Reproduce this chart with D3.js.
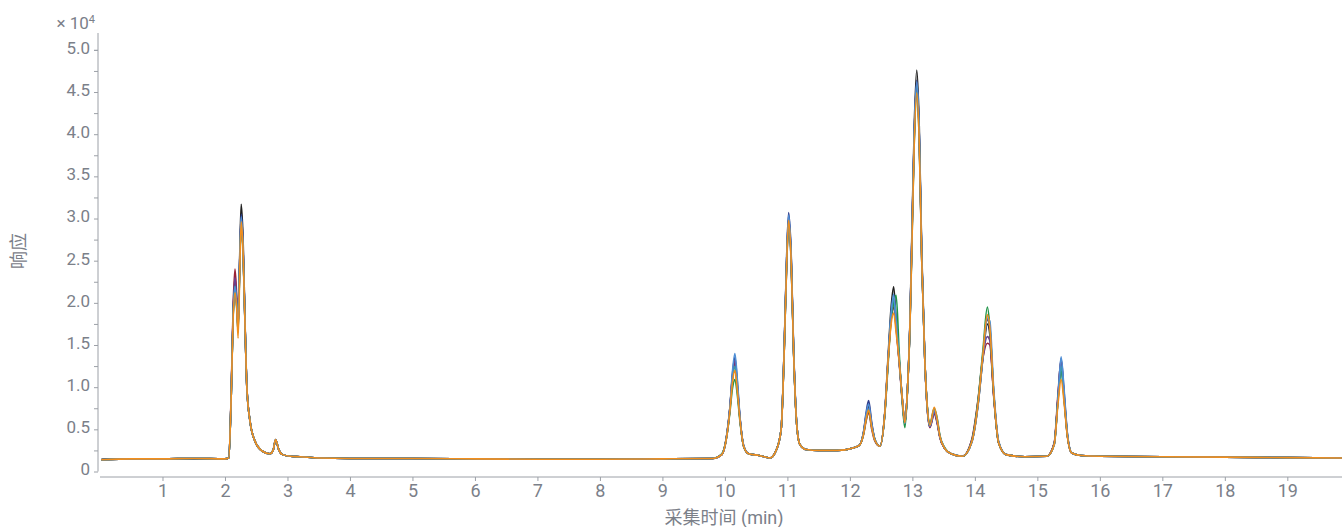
<!DOCTYPE html>
<html>
<head>
<meta charset="utf-8">
<script src="https://cdn.jsdelivr.net/npm/d3@7"></script>
<style>
  body { margin: 0; background: #fff; }
  text { font-family: Roboto, "Noto Sans CJK SC", sans-serif; fill: #7b8089; }
  .axis path, .axis line { stroke: #9ca0a7; }
</style>
</head>
<body>
<script>
// acquisition time (min), shared by every run
const times = [
  0.02, 0.5, 1.0, 1.5, 2.0, 2.06, 2.10, 2.13, 2.16, 2.19, 2.21, 2.24, 2.26, 2.29, 2.32, 2.35, 2.40, 2.48, 2.60, 2.72, 2.77, 2.81, 2.86, 2.92, 3.05, 3.20, 3.50, 4, 5, 6, 7, 8, 9, 9.80,
  9.95, 10.03, 10.08, 10.12, 10.16, 10.20, 10.24, 10.30, 10.38, 10.55, 10.72,
  10.82, 10.90, 10.95, 10.99, 11.02, 11.06, 11.10, 11.15, 11.20, 11.30, 11.50, 11.80,
  12.05, 12.15, 12.22, 12.26, 12.30, 12.35, 12.40, 12.48,
  12.56, 12.61, 12.66, 12.70, 12.74, 12.79, 12.84, 12.88,
  12.92, 12.96, 12.99, 13.03, 13.07, 13.11, 13.15, 13.20, 13.24, 13.28,
  13.35, 13.40, 13.44, 13.52, 13.62, 13.80,
  13.95, 14.05, 14.13, 14.20, 14.24, 14.30, 14.38, 14.50, 14.80,
  15.15, 15.27, 15.33, 15.38, 15.43, 15.48, 15.55, 15.70,
  16, 17, 18, 19, 19.9
];

// response of each run (x 10^4)
const runBlack = [
  0.145,0.15,0.15,0.15,0.15,0.16,0.92,1.85,2.2,1.95,1.7,2.7,3.17,2.75,1.8,1.02,0.6,0.36,0.24,0.21,0.25,0.38,0.26,0.2,0.18,0.175,0.16,0.155,0.155,0.15,0.145,0.145,0.15,0.155,
  0.2,0.44,0.76,1.12,1.3,1.0,0.64,0.3,0.21,0.19,0.16,
  0.25,0.5,1.5,2.55,3.0,2.55,1.42,0.55,0.32,0.26,0.25,0.25,
  0.28,0.31,0.47,0.66,0.78,0.55,0.38,0.3,
  0.72,1.35,1.95,2.19,1.8,1.32,0.85,0.58,
  0.95,1.75,2.75,4.1,4.76,4.1,2.6,1.32,0.75,0.55,
  0.72,0.58,0.41,0.27,0.21,0.18,
  0.35,0.78,1.35,1.75,1.62,0.92,0.34,0.2,0.175,
  0.18,0.33,0.85,1.25,0.88,0.44,0.22,0.19,
  0.18,0.175,0.17,0.165,0.16
];
const runNavy = [
  0.14,0.15,0.15,0.155,0.15,0.16,0.9,1.86,2.25,1.98,1.72,2.65,3.05,2.68,1.78,1.0,0.6,0.36,0.24,0.21,0.25,0.37,0.26,0.2,0.18,0.175,0.16,0.155,0.155,0.15,0.145,0.145,0.15,0.155,
  0.2,0.43,0.75,1.15,1.35,1.05,0.65,0.31,0.21,0.19,0.16,
  0.25,0.5,1.5,2.6,3.07,2.6,1.45,0.56,0.32,0.26,0.25,0.25,
  0.28,0.31,0.48,0.7,0.84,0.58,0.38,0.3,
  0.7,1.3,1.85,2.05,1.75,1.3,0.85,0.56,
  0.95,1.72,2.7,4.0,4.64,4.0,2.55,1.3,0.74,0.53,
  0.7,0.58,0.41,0.27,0.21,0.18,
  0.35,0.8,1.38,1.8,1.68,0.95,0.35,0.2,0.175,
  0.18,0.33,0.88,1.34,0.92,0.45,0.22,0.19,
  0.18,0.175,0.17,0.165,0.16
];
const runRed = [
  0.14,0.15,0.15,0.155,0.15,0.16,0.95,1.95,2.4,2.05,1.75,2.6,3.0,2.62,1.76,1.0,0.6,0.36,0.24,0.21,0.25,0.38,0.26,0.2,0.18,0.175,0.16,0.155,0.155,0.15,0.145,0.145,0.15,0.155,
  0.2,0.42,0.74,1.1,1.28,0.98,0.63,0.3,0.21,0.19,0.16,
  0.25,0.5,1.45,2.5,2.95,2.5,1.4,0.55,0.32,0.26,0.25,0.25,
  0.28,0.31,0.44,0.6,0.7,0.5,0.36,0.3,
  0.7,1.3,1.8,1.95,1.7,1.28,0.82,0.57,
  0.95,1.7,2.65,3.95,4.55,3.95,2.5,1.3,0.72,0.52,
  0.68,0.56,0.4,0.27,0.21,0.18,
  0.38,0.85,1.35,1.52,1.5,0.9,0.34,0.2,0.175,
  0.18,0.34,0.92,1.32,0.85,0.42,0.22,0.19,
  0.18,0.175,0.17,0.165,0.16
];
const runPurple = [
  0.14,0.15,0.15,0.155,0.15,0.16,0.92,1.9,2.3,2.0,1.7,2.6,2.98,2.62,1.77,1.0,0.6,0.36,0.24,0.21,0.25,0.37,0.26,0.2,0.18,0.175,0.16,0.155,0.155,0.15,0.145,0.145,0.15,0.155,
  0.2,0.43,0.75,1.12,1.32,1.0,0.64,0.3,0.21,0.19,0.16,
  0.25,0.5,1.47,2.55,3.0,2.55,1.42,0.55,0.32,0.26,0.25,0.25,
  0.28,0.31,0.46,0.65,0.75,0.53,0.37,0.3,
  0.7,1.3,1.85,2.0,1.72,1.3,0.84,0.57,
  0.95,1.72,2.68,4.0,4.6,4.0,2.52,1.3,0.73,0.53,
  0.7,0.57,0.41,0.27,0.21,0.18,
  0.37,0.83,1.38,1.6,1.55,0.92,0.34,0.2,0.175,
  0.18,0.33,0.88,1.3,0.88,0.43,0.22,0.19,
  0.18,0.175,0.17,0.165,0.16
];
const runGreen = [
  0.14,0.15,0.15,0.155,0.15,0.16,0.9,1.82,2.15,1.92,1.65,2.55,2.92,2.58,1.75,1.0,0.6,0.36,0.24,0.21,0.25,0.37,0.26,0.2,0.18,0.175,0.16,0.155,0.155,0.15,0.145,0.145,0.15,0.155,
  0.21,0.42,0.7,0.98,1.09,0.9,0.6,0.3,0.21,0.19,0.16,
  0.25,0.5,1.45,2.52,2.97,2.52,1.4,0.55,0.32,0.26,0.25,0.25,
  0.28,0.31,0.45,0.62,0.72,0.53,0.38,0.3,
  0.68,1.25,1.8,2.0,2.09,1.4,0.8,0.52,
  0.93,1.68,2.6,3.9,4.5,3.9,2.5,1.3,0.76,0.57,
  0.75,0.62,0.43,0.28,0.21,0.18,
  0.36,0.84,1.45,1.95,1.72,0.95,0.34,0.2,0.175,
  0.18,0.32,0.85,1.2,0.84,0.43,0.22,0.19,
  0.18,0.175,0.17,0.165,0.16
];
const runTeal = [
  0.14,0.15,0.15,0.155,0.15,0.16,0.9,1.83,2.2,1.95,1.68,2.6,3.0,2.62,1.77,1.0,0.6,0.36,0.24,0.21,0.25,0.38,0.26,0.2,0.18,0.175,0.16,0.155,0.155,0.15,0.145,0.145,0.15,0.155,
  0.2,0.42,0.73,1.08,1.25,0.97,0.63,0.3,0.21,0.19,0.16,
  0.25,0.5,1.45,2.48,2.9,2.48,1.4,0.55,0.32,0.26,0.25,0.25,
  0.28,0.31,0.46,0.64,0.74,0.53,0.37,0.3,
  0.7,1.3,1.85,2.05,1.75,1.3,0.84,0.57,
  0.95,1.7,2.66,3.98,4.58,3.98,2.52,1.3,0.74,0.54,
  0.74,0.6,0.42,0.27,0.21,0.18,
  0.35,0.8,1.4,1.85,1.72,0.96,0.35,0.2,0.175,
  0.18,0.32,0.84,1.25,0.86,0.43,0.22,0.19,
  0.18,0.175,0.17,0.165,0.16
];
const runBlue = [
  0.14,0.15,0.15,0.155,0.15,0.16,0.9,1.84,2.19,1.94,1.66,2.62,3.02,2.64,1.78,1.0,0.6,0.36,0.24,0.21,0.25,0.38,0.26,0.2,0.18,0.175,0.16,0.155,0.155,0.15,0.145,0.145,0.15,0.155,
  0.2,0.43,0.76,1.18,1.4,1.08,0.66,0.31,0.21,0.19,0.16,
  0.25,0.5,1.5,2.58,3.04,2.58,1.44,0.56,0.32,0.26,0.25,0.25,
  0.28,0.31,0.47,0.68,0.8,0.56,0.38,0.3,
  0.7,1.32,1.88,2.1,1.78,1.32,0.85,0.57,
  0.95,1.72,2.7,4.02,4.62,4.02,2.56,1.3,0.74,0.54,
  0.72,0.59,0.42,0.27,0.21,0.18,
  0.34,0.78,1.36,1.82,1.78,1.0,0.36,0.2,0.175,
  0.18,0.32,0.86,1.36,0.95,0.46,0.22,0.19,
  0.18,0.175,0.17,0.165,0.16
];
const runOrange = [
  0.14,0.15,0.15,0.155,0.15,0.16,0.9,1.8,2.12,1.9,1.58,2.5,2.96,2.6,1.76,1.0,0.6,0.36,0.24,0.21,0.25,0.38,0.26,0.2,0.18,0.175,0.16,0.155,0.155,0.15,0.145,0.145,0.15,0.155,
  0.2,0.42,0.72,1.05,1.2,0.95,0.62,0.3,0.21,0.19,0.16,
  0.25,0.5,1.45,2.5,2.98,2.5,1.4,0.55,0.32,0.26,0.25,0.25,
  0.28,0.31,0.45,0.62,0.73,0.52,0.37,0.3,
  0.7,1.3,1.75,1.88,1.65,1.3,0.85,0.58,
  0.95,1.7,2.6,3.9,4.49,3.9,2.5,1.3,0.75,0.55,
  0.76,0.6,0.42,0.27,0.21,0.18,
  0.35,0.8,1.4,1.86,1.7,0.95,0.34,0.2,0.175,
  0.18,0.32,0.8,1.09,0.8,0.42,0.22,0.19,
  0.18,0.175,0.17,0.165,0.16
];

const runs = [runBlack, runNavy, runRed, runPurple, runGreen, runTeal, runBlue, runOrange];
const runColors = ["#1f1f1f", "#2f3d8c", "#9a2236", "#6b3f8f", "#1f9447", "#3a9aa6", "#4f8fd6", "#f28e1c"];

const xTicks = [1, 2, 3, 4, 5, 6, 7, 8, 9, 10, 11, 12, 13, 14, 15, 16, 17, 18, 19];
const yTicks = [0, 0.5, 1.0, 1.5, 2.0, 2.5, 3.0, 3.5, 4.0, 4.5, 5.0];
const yMinorTicks = [0.25, 0.75, 1.25, 1.75, 2.25, 2.75, 3.25, 3.75, 4.25, 4.75, 5.0];

const width = 1342, height = 527;

var x = d3.scaleLinear().domain([0, 19.875]).range([100, 1342]);
var y = d3.scaleLinear().domain([0, 5.2]).range([471.5, 33]);

var svg = d3.select("body").append("svg")
    .attr("width", width)
    .attr("height", height);

// y axis (stops at 0, x axis sits a bit lower)
var yAxis = svg.append("g")
    .attr("class", "axis")
    .attr("transform", "translate(98,0)")
    .call(d3.axisLeft(y).tickValues(yTicks).tickSize(4).tickPadding(4)
        .tickFormat(function (d) { return d === 0 ? "0" : d3.format(".1f")(d); }));
yAxis.select(".domain").attr("d", "M0," + y(5.2) + "V" + y(0));
yAxis.selectAll("text")
    .attr("dy", "0.2em")
    .style("font-size", "17px").style("fill", "#7b8089");

svg.append("g")
    .attr("class", "axis")
    .attr("transform", "translate(98,0)")
    .call(d3.axisLeft(y).tickValues(yMinorTicks).tickSize(4).tickFormat(""))
    .select(".domain").remove();

var xAxis = svg.append("g")
    .attr("class", "axis")
    .attr("transform", "translate(0,477)")
    .call(d3.axisBottom(x).tickValues(xTicks).tickSize(4).tickPadding(3).tickFormat(d3.format("d")));
xAxis.select(".domain").attr("d", "M" + x(0) + ",0H" + width);
xAxis.selectAll("text").style("font-size", "18px").style("fill", "#7b8089");

// the traces, orange last so it lies on top
var line = d3.line()
    .x(function (d, i) { return x(times[i]); })
    .y(function (d) { return y(d); })
    .curve(d3.curveMonotoneX);

svg.append("g")
    .selectAll("path")
    .data(runs)
    .enter().append("path")
    .attr("d", line)
    .attr("fill", "none")
    .attr("stroke", function (d, i) { return runColors[i]; })
    .attr("stroke-width", 1.6)
    .attr("stroke-linejoin", "round");

// scale note
var note = svg.append("text")
    .attr("x", 95)
    .attr("y", 29)
    .attr("text-anchor", "end")
    .style("font-size", "17px");
note.append("tspan").text("× 10");
note.append("tspan").attr("dy", -6).style("font-size", "11px").text("4");

svg.append("text")
    .attr("x", 724)
    .attr("y", 524)
    .attr("text-anchor", "middle")
    .style("font-size", "18px")
    .text("采集时间 (min)");

svg.append("text")
    .attr("transform", "translate(25,251) rotate(-90)")
    .attr("text-anchor", "middle")
    .style("font-size", "18px")
    .text("响应");
</script>
</body>
</html>
